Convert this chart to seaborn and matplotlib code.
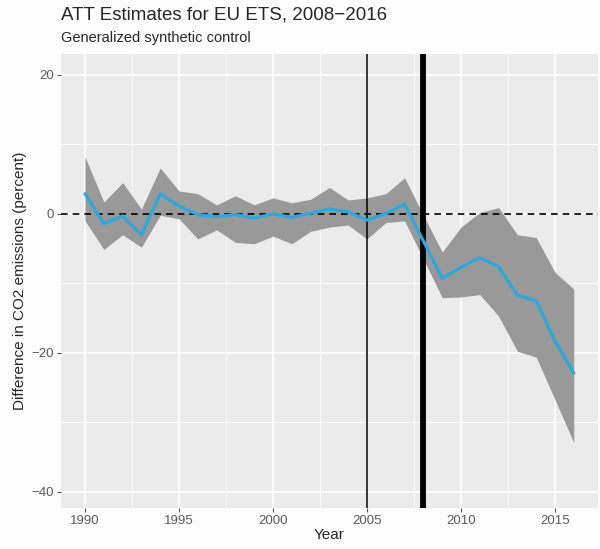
import numpy as np
import pandas as pd
import matplotlib
matplotlib.use("Agg")
import matplotlib.pyplot as plt
from matplotlib.ticker import MultipleLocator
import seaborn as sns

# values
years = list(range(1990, 2017))
att = [2.9, -1.4, -0.3, -3.0, 2.9, 1.1, -0.1, -0.4, -0.1, -0.6, 0.0, -0.5, 0.1, 0.7,
       0.3, -0.9, 0.05, 1.4, -3.9, -9.25, -7.7, -6.3, -7.6, -11.7, -12.5, -18.3, -22.9]
ci_upper = [8.2, 1.7, 4.5, 0.7, 6.6, 3.3, 2.9, 1.3, 2.6, 1.3, 2.3, 1.6, 2.1, 3.8,
            2.0, 2.3, 2.9, 5.2, -0.2, -5.5, -1.9, 0.2, 0.9, -3.0, -3.4, -8.4, -10.8]
ci_lower = [-1.0, -5.1, -3.0, -4.8, -0.2, -0.7, -3.6, -2.3, -4.1, -4.3, -3.2, -4.3, -2.5, -1.9,
            -1.6, -3.6, -1.25, -1.0, -6.5, -12.05, -11.95, -11.6, -14.7, -19.75, -20.6, -26.7, -32.9]

df = pd.DataFrame({"year": years, "att": att, "lo": ci_lower, "hi": ci_upper})

sns.set_theme(style="darkgrid", rc={
    "axes.facecolor": "#EBEBEB",
    "figure.facecolor": "#FCFCFC",
    "grid.color": "white",
    "axes.edgecolor": "#EBEBEB",
})
plt.rcParams["font.family"] = ["Liberation Sans", "DejaVu Sans"]

fig = plt.figure(figsize=(6.0, 5.49), dpi=100)
ax = fig.add_axes([0.101, 0.0747, 0.896, 0.827])

ax.fill_between(df["year"], df["lo"], df["hi"], color="#999999", lw=0, zorder=2)
ax.axhline(0, color="black", ls=(0, (4, 3)), lw=1.2, zorder=3)
ax.axvline(2005, color="black", lw=1.1, zorder=3)
ax.axvline(2008, color="black", lw=4.2, zorder=3)
sns.lineplot(data=df, x="year", y="att", color="#2BA8DC", lw=2.3, ax=ax, zorder=4)

ax.set_xlim(1988.7, 2017.3)
ax.set_ylim(-42.3, 23.0)
ax.xaxis.set_major_locator(MultipleLocator(5))
ax.xaxis.set_minor_locator(MultipleLocator(2.5))
ax.yaxis.set_major_locator(MultipleLocator(20))
ax.yaxis.set_minor_locator(MultipleLocator(10))
ax.grid(which="major", color="white", lw=1.1)
ax.grid(which="minor", color="white", lw=0.55)
ax.tick_params(which="major", length=3, width=0.8, color="#555555", colors="#5A5A5A",
               labelsize=9.5, pad=2, bottom=True, left=True)
ax.tick_params(which="minor", length=0)
for s in ax.spines.values():
    s.set_visible(False)

ax.set_xlabel("Year", fontsize=11, labelpad=1)
ax.set_ylabel("Difference in CO2 emissions (percent)", fontsize=11, labelpad=3)

fig.text(0.101, 0.972, "ATT Estimates for EU ETS, 2008\u22122016", fontsize=13.5, va="center")
fig.text(0.101, 0.931, "Generalized synthetic control", fontsize=10.5, va="center")

fig.savefig("out.png", dpi=100)
